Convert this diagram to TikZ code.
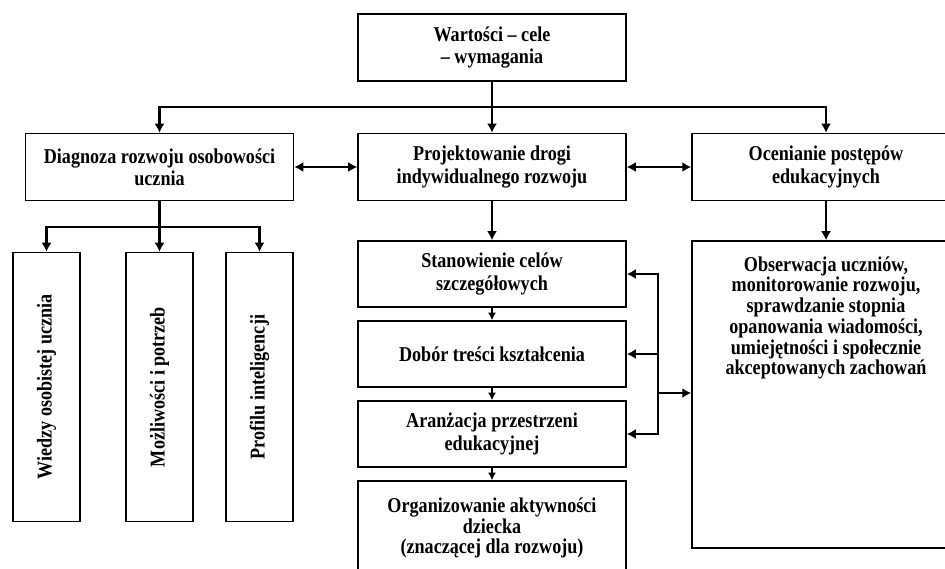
\documentclass[tikz,border=0pt]{standalone}
\usepackage{fontspec}
\setmainfont{Liberation Serif}[FakeStretch=0.86]
\usetikzlibrary{arrows.meta,positioning}

\begin{document}
\begin{tikzpicture}[
    x=0.02cm, y=-0.02cm,
    box/.style={draw, line width=0.9pt, align=center, minimum width=5.36cm, minimum height=1.34cm, inner sep=2pt, font=\fontsize{12}{12.6}\selectfont\bfseries},
    tall/.style={box, minimum width=1.34cm, minimum height=5.38cm},
    link/.style={-{Latex[length=1.8mm,width=2mm]}, line width=1.4pt},
    both/.style={{Latex[length=1.8mm,width=2mm]}-{Latex[length=1.8mm,width=2mm]}, line width=1.4pt},
    small/.style={-{Latex[length=1.5mm,width=1.6mm]}, line width=1pt}
]
\path[use as bounding box, fill=white] (0,0) rectangle (945,568);
\node[box] (val) at (492,47.5) {Wartości – cele\\– wymagania};
\node[box] (diag) at (159.5,167) {Diagnoza rozwoju osobowości\\ucznia};
\node[box] (proj) at (492,167) {Projektowanie drogi\\indywidualnego rozwoju};
\node[box] (ocen) at (826,167) {Ocenianie postępów\\edukacyjnych};
\node[tall] (wied) at (46.5,387) {\rotatebox{90}{Wiedzy osobistej ucznia}};
\node[tall] (moz) at (159.5,387) {\rotatebox{90}{Możliwości i potrzeb}};
\node[tall] (prof) at (259.5,387) {\rotatebox{90}{Profilu inteligencji}};
\node[box, minimum height=1.32cm] (stan) at (492,274) {Stanowienie celów\\szczegółowych};
\node[box, minimum height=1.32cm] (dob) at (492,354) {Dobór treści kształcenia};
\node[box, minimum height=1.32cm] (aran) at (492,434) {Aranżacja przestrzeni\\edukacyjnej};
\node[box, minimum height=1.88cm, font=\fontsize{12}{11.6}\selectfont\bfseries] (org) at (492,528) {Organizowanie aktywności\\dziecka\\(znaczącej dla rozwoju)};
\node[box, minimum height=6.14cm] (obs) at (826,394.5) {};
\node[align=center, font=\fontsize{12}{11.8}\selectfont\bfseries, below=0.2cm of obs.north] (obstxt) {Obserwacja uczniów,\\monitorowanie rozwoju,\\sprawdzanie stopnia\\opanowania wiadomości,\\umiejętności i społecznie\\akceptowanych zachowań};
\coordinate (top) at (492,107);
\coordinate (br) at (159.5,227);
\coordinate (fb) at (658,393);
\draw[line width=1.4pt] (val) -- (top);
\draw[link] (top) -- (proj);
\draw[link] (top) -| (diag);
\draw[link] (top) -| (ocen);
\draw[both] (diag) -- (proj);
\draw[both] (proj) -- (ocen);
\draw[line width=1.4pt] (diag) -- (br);
\draw[link] (br) -| (wied);
\draw[link] (br) -- (moz);
\draw[link] (br) -| (prof);
\draw[link] (proj) -- (stan);
\draw[link] (ocen) -- (obs);
\draw[small] (stan) -- (dob);
\draw[small] (dob) -- (aran);
\draw[small] (aran) -- (org);
\draw[link] (fb) |- (stan);
\draw[link] (fb) |- (dob);
\draw[link] (fb) |- (aran);
\draw[link] (fb) -- (fb -| obs.west);
\end{tikzpicture}
\end{document}
